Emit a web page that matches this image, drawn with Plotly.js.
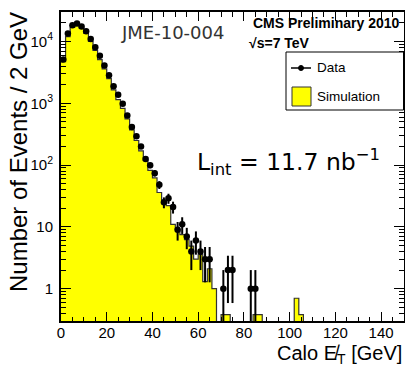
<!DOCTYPE html>
<html>
<head>
<meta charset="utf-8">
<script src="https://cdn.plot.ly/plotly-3.0.1.min.js"></script>
<style>
  html, body { margin: 0; padding: 0; background: #ffffff; }
  #chart { width: 405px; height: 368px; }
</style>
</head>
<body>
<div id="chart"></div>
<script>
// Calorimeter missing transverse energy, 2 GeV bins from 0 to 150 GeV.
const BIN_WIDTH = 2;
const X_MAX = 150;

// Observed events per bin (bin centres 1, 3, 5, ... 149 GeV)
const dataCounts = [
  5100, 13500, 18300, 19500, 17400, 14700, 11000, 8100, 5900, 4100,
  2830, 1880, 1380, 980, 635, 415, 293, 200, 126, 99,
  74, 48, 25, 29, 21, 9, 11, 7, 4, 6,
  4, 3, 3, 0, 0, 1, 2, 2, 0, 0,
  0, 1, 1, 0, 0, 0, 0, 0, 0, 0,
  0, 0, 0, 0, 0, 0, 0, 0, 0, 0,
  0, 0, 0, 0, 0, 0, 0, 0, 0, 0,
  0, 0, 0, 0, 0
];

// Simulated events per bin, normalised to the data
const simCounts = [
  4700, 12000, 17000, 18500, 16500, 13500, 10000, 7200, 5100, 3600,
  2500, 1650, 1150, 830, 560, 370, 250, 170, 120, 82,
  62, 36, 27, 22, 11, 9, 7.5, 6.2, 4.9, 3.0,
  3.6, 1.3, 2.1, 1.0, 0, 0.38, 0.38, 0, 0, 0,
  0, 0, 0.38, 0.38, 0, 0, 0, 0, 0, 0,
  0, 0.7, 0.38, 0, 0, 0, 0, 0, 0, 0,
  0, 0, 0, 0, 0, 0, 0, 0, 0, 0,
  0, 0, 0, 0, 0
];

const xTickVals = [0, 20, 40, 60, 80, 100, 120, 140];
const xTickText = ['0', '20', '40', '60', '80', '100', '120', '140'];
const yTickVals = [1, 10, 100, 1000, 10000];
const yTickText = ['1', '10', '10<sup>2</sup>', '10<sup>3</sup>', '10<sup>4</sup>'];

const Y_MIN = 0.3, Y_MAX = 3e4;

// ---- derived drawing arrays ----
const centres = dataCounts.map((_, i) => BIN_WIDTH * i + BIN_WIDTH / 2);
const edges = [];
for (let i = 0; i <= simCounts.length; i++) edges.push(BIN_WIDTH * i);

// data points: only bins with entries, Poisson sqrt(N) error bars
const dX = [], dY = [], dUp = [], dDn = [];
dataCounts.forEach((n, i) => {
  if (n > 0) {
    const e = Math.sqrt(n);
    dX.push(centres[i]);
    dY.push(n);
    dUp.push(e);
    dDn.push(Math.min(e, n - 1e-3)); // keep the lower end positive on the log axis
  }
});

// step outline of the simulation; empty bins drop below the visible range
const stepY = simCounts.map(v => (v > 0 ? v : 1e-3));
stepY.push(stepY[stepY.length - 1]);

// minor ticks
const xMinor = [];
for (let v = 5; v < X_MAX; v += 5) if (v % 20 !== 0) xMinor.push(v);
const yMinor = [];
for (let d = 0.1; d <= 10000; d *= 10) {
  for (let k = 2; k <= 9; k++) {
    const v = +(k * d).toPrecision(3);
    if (v >= Y_MIN && v <= Y_MAX) yMinor.push(v);
  }
}

const FONT = 'Liberation Sans, Arial, Helvetica, sans-serif';

const traces = [
  {
    type: 'bar',
    x: centres,
    y: simCounts.map(v => (v > 0 ? v : null)),
    width: BIN_WIDTH,
    marker: { color: '#ffff00', line: { width: 0 } },
    hoverinfo: 'skip',
    name: 'Simulation'
  },
  {
    type: 'scatter',
    mode: 'lines',
    x: edges,
    y: stepY,
    line: { shape: 'hv', color: '#333333', width: 1.2 },
    hoverinfo: 'skip',
    name: 'Simulation outline'
  },
  {
    type: 'scatter',
    mode: 'markers',
    x: dX,
    y: dY,
    marker: { color: '#000000', size: 6.5, symbol: 'circle' },
    error_y: {
      type: 'data', symmetric: false, array: dUp, arrayminus: dDn,
      color: '#000000', thickness: 2, width: 0
    },
    name: 'Data'
  }
];

// plot frame in page pixels, for placing the legend and labels
const PL = 61, PR = 404, PT = 12, PB = 321;
const px = v => (v - PL) / (PR - PL);
const py = v => (PB - v) / (PB - PT);

const layout = {
  width: 405,
  height: 368,
  margin: { l: PL, r: 405 - PR, t: PT, b: 368 - PB, pad: 0 },
  paper_bgcolor: '#ffffff',
  plot_bgcolor: '#ffffff',
  showlegend: false,
  bargap: 0,
  font: { family: FONT, color: '#000000' },
  xaxis: {
    range: [0, X_MAX],
    showline: true, linecolor: '#000000', linewidth: 2,
    mirror: 'allticks',
    ticks: 'inside', ticklen: 9, tickwidth: 1, tickcolor: '#000000',
    tickmode: 'array', tickvals: xTickVals, ticktext: xTickText,
    tickfont: { family: FONT, size: 15, color: '#000000' },
    ticklabelstandoff: -3,
    minor: { ticks: 'inside', ticklen: 4.5, tickwidth: 1, tickcolor: '#000000',
             tickmode: 'array', tickvals: xMinor, showgrid: false },
    showgrid: false, zeroline: false
  },
  yaxis: {
    type: 'log',
    range: [Math.log10(Y_MIN), Math.log10(Y_MAX)],
    showline: true, linecolor: '#000000', linewidth: 2,
    mirror: 'allticks',
    ticks: 'inside', ticklen: 10, tickwidth: 1, tickcolor: '#000000',
    tickmode: 'array', tickvals: yTickVals, ticktext: yTickText,
    tickfont: { family: FONT, size: 15, color: '#000000' },
    ticklabelstandoff: 3,
    minor: { ticks: 'inside', ticklen: 5, tickwidth: 1, tickcolor: '#000000',
             tickmode: 'array', tickvals: yMinor, showgrid: false },
    showgrid: false, zeroline: false
  },
  shapes: [
    // legend box
    { type: 'rect', xref: 'paper', yref: 'paper',
      x0: px(286), x1: px(403.5), y0: py(110), y1: py(52),
      line: { color: '#000000', width: 1 }, fillcolor: '#ffffff' },
    // data entry: line through marker
    { type: 'line', xref: 'paper', yref: 'paper',
      x0: px(291), x1: px(311), y0: py(68), y1: py(68),
      line: { color: '#000000', width: 1.5 } },
    { type: 'circle', xref: 'paper', yref: 'paper',
      x0: px(298.5), x1: px(303.5), y0: py(70.5), y1: py(65.5),
      line: { color: '#000000', width: 1 }, fillcolor: '#000000' },
    // simulation entry: filled box
    { type: 'rect', xref: 'paper', yref: 'paper',
      x0: px(292), x1: px(311), y0: py(106), y1: py(87),
      line: { color: '#333333', width: 1 }, fillcolor: '#ffff00' }
  ],
  annotations: [
    { text: 'Data', xref: 'paper', yref: 'paper', x: px(315), y: py(68),
      xanchor: 'left', yanchor: 'middle', showarrow: false,
      font: { family: FONT, size: 13.5, color: '#000000' } },
    { text: 'Simulation', xref: 'paper', yref: 'paper', x: px(315), y: py(97),
      xanchor: 'left', yanchor: 'middle', showarrow: false,
      font: { family: FONT, size: 13.5, color: '#000000' } },
    { text: 'CMS Preliminary 2010', xref: 'paper', yref: 'paper', x: px(402), y: py(23),
      xanchor: 'right', yanchor: 'middle', showarrow: false,
      font: { family: FONT, size: 14, color: '#000000', weight: 'bold' } },
    { text: '\u221As=7 TeV', xref: 'paper', yref: 'paper', x: px(247), y: py(43),
      xanchor: 'left', yanchor: 'middle', showarrow: false,
      font: { family: FONT, size: 14, color: '#000000', weight: 'bold' } },
    { text: 'JME-10-004', xref: 'paper', yref: 'paper', x: px(119), y: py(33),
      xanchor: 'left', yanchor: 'middle', showarrow: false,
      font: { family: 'DejaVu Sans, sans-serif', size: 18, color: '#333333' } },
    { text: 'L<sub>int</sub> = 11.7 nb<sup>\u22121</sup>', xref: 'paper', yref: 'paper',
      x: px(195), y: py(162), xanchor: 'left', yanchor: 'middle', showarrow: false,
      font: { family: 'DejaVu Sans, sans-serif', size: 23.5, color: '#000000' } },
    // axis titles, right/top aligned at the frame ends
    { text: 'Calo E\u0338<sub>T</sub> [GeV]', xref: 'paper', yref: 'paper',
      x: px(404), y: py(354), xanchor: 'right', yanchor: 'middle', showarrow: false,
      font: { family: FONT, size: 20, color: '#000000' } },
    { text: 'Number of Events / 2 GeV', xref: 'paper', yref: 'paper',
      x: px(18), y: py(10), xanchor: 'center', yanchor: 'top', textangle: -90,
      showarrow: false,
      font: { family: FONT, size: 24, color: '#000000' } }
  ]
};

Plotly.newPlot('chart', traces, layout, { staticPlot: true, displayModeBar: false });
</script>
</body>
</html>
